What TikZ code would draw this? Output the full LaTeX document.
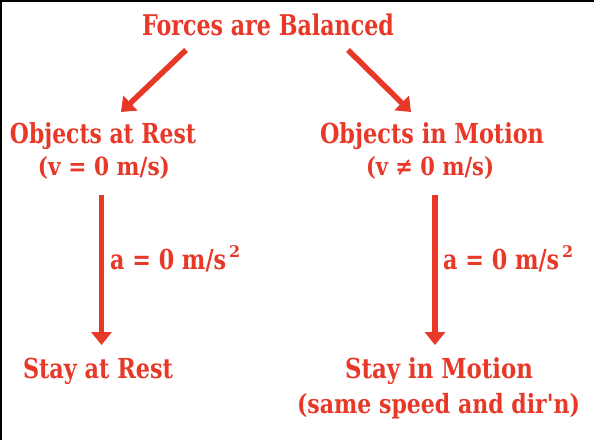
\documentclass[tikz,border=0pt]{standalone}
\usepackage{fontspec}
\setmainfont{DejaVu Serif}[Ligatures=TeXOff]
\usepackage{graphicx}
\usetikzlibrary{arrows.meta}
\definecolor{fred}{RGB}{232,56,40}
\newcommand\fw[2]{\resizebox{#1pt}{\height}{#2}}
\tikzset{
  lbl/.style={text=fred, font=\bfseries\fontsize{27.5}{30}\selectfont, inner sep=0pt, anchor=base},
  sub/.style={lbl, font=\bfseries\fontsize{25}{30}\selectfont},
  arr/.style={draw=fred, line width=5.5pt, -{Triangle[width=20pt,length=13pt]}}
}
\begin{document}
\begin{tikzpicture}[x=1pt,y=-1pt]
\useasboundingbox (0,0) rectangle (594,440);
\fill[white] (0,0) rectangle (594,440);
\fill[black] (0,0) rectangle (594,2);
\fill[black] (0,0) rectangle (2,440);

\node[lbl, font=\bfseries\fontsize{28.5}{30}\selectfont] (top) at (268,35) {\fw{252}{Forces are Balanced}};
\node[lbl] (rest) at (103,143) {\fw{186}{Objects at Rest}};
\node[sub] (restv) at (104,175) {\fw{132}{(v = 0 m/s)}};
\node[lbl] (mot) at (432,143) {\fw{224}{Objects in Motion}};
\node[sub] (motv) at (430,175) {\fw{128}{(v ≠ 0 m/s)}};

\node[lbl, anchor=base west] (acc1) at (110,269) {\fw{116}{a = 0 m/s}};
\node[lbl, anchor=base west, font=\bfseries\fontsize{16}{18}\selectfont] (sup1) at (229,257) {2};
\node[lbl, anchor=base west] (acc2) at (443,269) {\fw{116}{a = 0 m/s}};
\node[lbl, anchor=base west, font=\bfseries\fontsize{16}{18}\selectfont] (sup2) at (562,257) {2};

\node[lbl] (stayr) at (98,378) {\fw{150}{Stay at Rest}};
\node[lbl] (staym) at (439,378) {\fw{188}{Stay in Motion}};
\node[sub, font=\bfseries\fontsize{26.5}{30}\selectfont] (same) at (438.5,413) {\fw{283}{(same speed and dir'n)}};

\coordinate (a1s) at (186,50);
\coordinate (a1e) at (121,112);
\coordinate (a2s) at (348,50);
\coordinate (a2e) at (411,112);
\coordinate (v1s) at (101.5,195);
\coordinate (v1e) at (101.5,345);
\coordinate (v2s) at (435,195);
\coordinate (v2e) at (435,345);

\draw[arr] (a1s) -- (a1e);
\draw[arr] (a2s) -- (a2e);
\draw[arr] (v1s) -- (v1e);
\draw[arr] (v2s) -- (v2e);
\end{tikzpicture}
\end{document}
